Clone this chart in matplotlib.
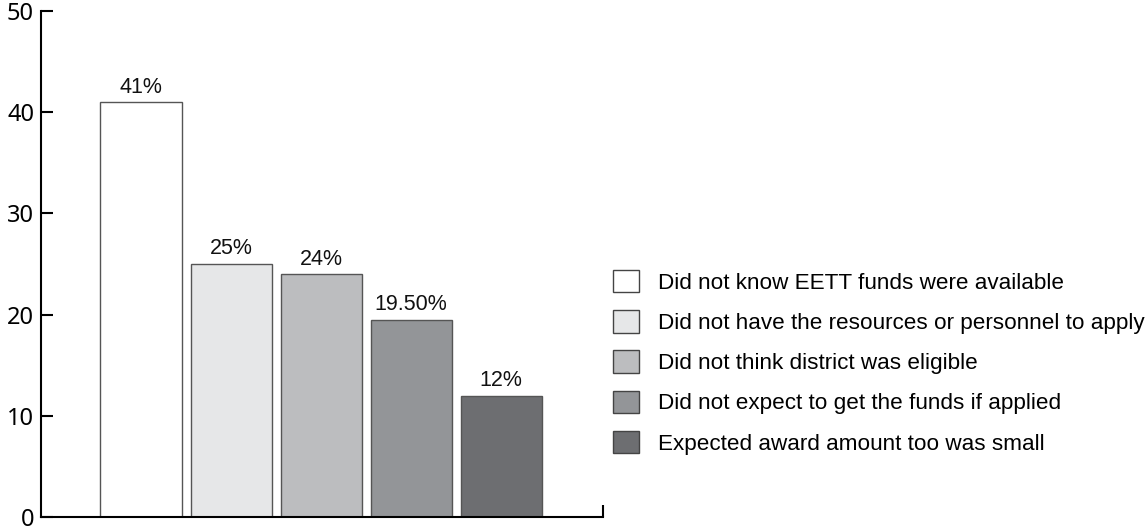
import matplotlib.pyplot as plt
from matplotlib.patches import Patch

# Data
categories = ["Did not know EETT funds were available",
              "Did not have the resources or personnel to apply",
              "Did not think district was eligible",
              "Did not expect to get the funds if applied",
              "Expected award amount too was small"]
values = [41, 25, 24, 19.5, 12]
value_labels = ["41%", "25%", "24%", "19.50%", "12%"]
colors = ["#ffffff", "#e6e7e8", "#bcbdbf", "#939598", "#6d6e71"]
yticks = [0, 10, 20, 30, 40, 50]

plt.rcParams['font.family'] = ['Liberation Sans', 'DejaVu Sans']

fig = plt.figure(figsize=(11.48, 5.29), dpi=100)
ax = fig.add_axes([41 / 1148, 12 / 529, (603 - 41) / 1148, (517 - 11) / 529])

x = list(range(len(values)))
ax.bar(x, values, width=0.9, color=colors, edgecolor="#555555", linewidth=1.0)

for xi, v, lab in zip(x, values, value_labels):
    ax.text(xi, v + 0.45, lab, ha='center', va='bottom', fontsize=15.5, color="#111111")

ax.set_xlim(-1.11, 5.13)
ax.set_ylim(0, 50)
ax.set_yticks(yticks)
ax.set_yticklabels([str(t) for t in yticks], fontsize=17, family=['Noto Sans', 'DejaVu Sans'])
ax.tick_params(axis='y', direction='in', length=8.5, width=1.5, pad=5)

# small upturned tick at right end of the baseline
ax.set_xticks([5.13])
ax.set_xticklabels([""])
ax.tick_params(axis='x', direction='in', length=8.5, width=1.5)

for s in ['top', 'right']:
    ax.spines[s].set_visible(False)
for s in ['left', 'bottom']:
    ax.spines[s].set_linewidth(1.5)

handles = [Patch(facecolor=c, edgecolor="#444444", linewidth=1.0) for c in colors]
fig.legend(handles, categories, loc='upper left',
           bbox_to_anchor=(613 / 1148, 1 - 270 / 529),
           bbox_transform=fig.transFigure, frameon=False,
           fontsize=16.2, handlelength=1.15, handleheight=1.15,
           handletextpad=0.85, labelspacing=0.73, borderpad=0, borderaxespad=0)

fig.savefig("out.png", dpi=100)
